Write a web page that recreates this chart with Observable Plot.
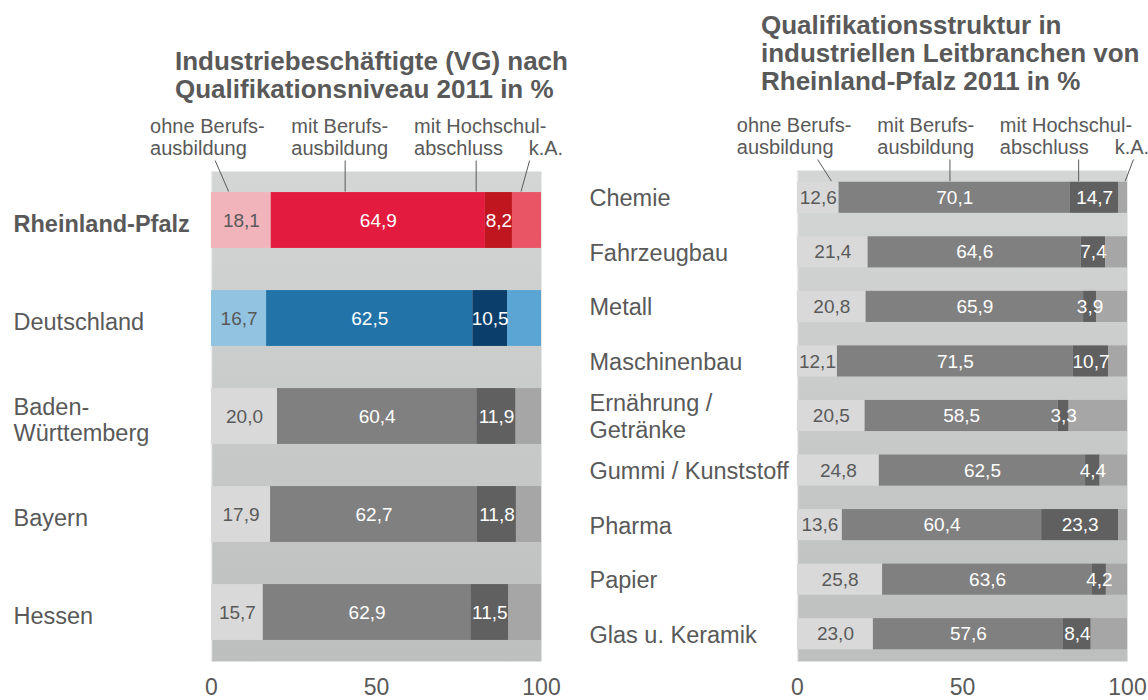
<!DOCTYPE html>
<html><head><meta charset="utf-8">
<script src="https://cdn.jsdelivr.net/npm/d3@7"></script>
<script src="https://cdn.jsdelivr.net/npm/@observablehq/plot@0.6"></script>
<style>
body{margin:0;background:#fff;font-family:"Liberation Sans",Arial,sans-serif;}
#wrap{position:relative;width:1148px;height:700px;overflow:hidden;}
.title{position:absolute;font-weight:bold;font-size:26px;line-height:28px;color:#595959;white-space:pre;}
.panel{position:absolute;top:105px;}
</style></head><body>
<div id="wrap">
  <div class="title" id="t1" style="left:175px;top:47px"></div>
  <div class="title" id="t2" style="left:761px;top:11px"></div>
  <div class="panel" id="p1" style="left:0px"></div>
  <div class="panel" id="p2" style="left:574px"></div>
</div>
<script>
// ---- data ----
const leftTitle = "Industriebeschäftigte (VG) nach\nQualifikationsniveau 2011 in %";
const rightTitle = "Qualifikationsstruktur in\nindustriellen Leitbranchen von\nRheinland-Pfalz 2011 in %";

const legendLabels = ["ohne Berufs-\nausbildung", "mit Berufs-\nausbildung", "mit Hochschul-\nabschluss", "k.A."];

const leftRegions = ["Rheinland-Pfalz", "Deutschland", "Baden-\nWürttemberg", "Bayern", "Hessen"];
const leftOhne = [18.1, 16.7, 20.0, 17.9, 15.7];
const leftMit  = [64.9, 62.5, 60.4, 62.7, 62.9];
const leftHoch = [8.2, 10.5, 11.9, 11.8, 11.5];
const leftScheme = ["rp", "de", "grey", "grey", "grey"];

const rightBranches = ["Chemie", "Fahrzeugbau", "Metall", "Maschinenbau", "Ernährung /\nGetränke",
  "Gummi / Kunststoff", "Pharma", "Papier", "Glas u. Keramik"];
const rightOhne = [12.6, 21.4, 20.8, 12.1, 20.5, 24.8, 13.6, 25.8, 23.0];
const rightMit  = [70.1, 64.6, 65.9, 71.5, 58.5, 62.5, 60.4, 63.6, 57.6];
const rightHoch = [14.7, 7.4, 3.9, 10.7, 3.3, 4.4, 23.3, 4.2, 8.4];
const rightScheme = rightBranches.map(() => "grey");

const xTicks = [0, 50, 100];

// ---- styles ----
const palettes = {
  rp:   ["#f2b4bb", "#e31b3f", "#bf1620", "#ea5566"],
  de:   ["#92c3e1", "#2274a8", "#0b3e6a", "#5aa5d3"],
  grey: ["#d9d9d9", "#808080", "#606060", "#a6a6a6"]
};
const textGrey = "#595959";
const fmt = v => v.toFixed(1).replace(".", ",");

document.getElementById("t1").textContent = leftTitle;
document.getElementById("t2").textContent = rightTitle;

function panel(cfg) {
  const {names, ohne, mit, hoch, scheme, marginLeft, marginRight, marginTop, marginBottom,
         labelOffset, labelDy, boldFirst, legendX, leaderX, gradId} = cfg;
  const width = 574, height = 595;
  const n = names.length;
  const step = (height - marginTop - marginBottom) / n;
  const half = 0.285;
  const segs = names.flatMap((name, i) => {
    const vals = [ohne[i], mit[i], hoch[i], +(100 - ohne[i] - mit[i] - hoch[i]).toFixed(1)];
    let acc = 0;
    return vals.map((v, k) => {
      const s = {row: i, k, v, x1: acc, x2: acc + v, color: palettes[scheme[i]][k]};
      acc += v;
      return s;
    });
  });
  const rows = names.map((name, i) => ({i, name}));
  const legend = legendLabels.map((label, k) => ({label, x: legendX[k]}));
  const leaders = leaderX.map(([a, b]) => ({a, b}));
  const yTop = -0.5 - 11 / step;
  const yBot = -half - 1 / step;

  const svg = Plot.plot({
    width, height, marginLeft, marginRight, marginTop, marginBottom,
    style: {fontFamily: '"Liberation Sans", Arial, sans-serif', overflow: "visible", background: "transparent"},
    x: {domain: [0, 100], axis: null},
    y: {domain: [-0.5, n - 0.5], reverse: true, axis: null},
    color: {type: "identity"},
    marks: [
      Plot.frame({fill: `url(#${gradId})`, stroke: "none"}),
      Plot.ruleX([0], {stroke: "#ececec", strokeWidth: 1.5}),
      Plot.rect(segs, {x1: "x1", x2: "x2", y1: d => d.row - half, y2: d => d.row + half, fill: "color"}),
      Plot.text(segs.filter(d => d.k < 3), {
        x: d => (d.x1 + d.x2) / 2, y: "row", text: d => fmt(d.v),
        fill: d => d.k === 0 ? textGrey : "#ffffff", fontSize: 19
      }),
      Plot.text(rows.filter(d => boldFirst && d.i === 0), {
        y: "i", text: "name", frameAnchor: "left", textAnchor: "start", dx: -labelOffset, dy: labelDy,
        fontSize: 23.5, fontWeight: "bold", fill: textGrey, lineHeight: 1.13
      }),
      Plot.text(rows.filter(d => !(boldFirst && d.i === 0)), {
        y: "i", text: "name", frameAnchor: "left", textAnchor: "start", dx: -labelOffset, dy: labelDy,
        fontSize: 23.5, fill: textGrey, lineHeight: 1.13
      }),
      Plot.text(legend, {
        x: "x", y: () => -0.5, text: "label", textAnchor: "start", lineAnchor: "bottom",
        dy: -17, fontSize: 20, lineHeight: 1.08, fill: textGrey
      }),
      Plot.link(leaders, {x1: "a", x2: "b", y1: () => yTop, y2: () => yBot, stroke: textGrey, strokeWidth: 1}),
      Plot.axisX({ticks: xTicks, tickSize: 0, tickPadding: 17, fontSize: 23, color: textGrey})
    ]
  });
  const defs = d3.select(svg).insert("defs", ":first-child");
  const g = defs.append("linearGradient").attr("id", gradId)
    .attr("x1", 0).attr("y1", 0).attr("x2", 0).attr("y2", 1);
  g.append("stop").attr("offset", "0%").attr("stop-color", "#d4d5d5");
  g.append("stop").attr("offset", "100%").attr("stop-color", "#bdbfbe");
  return svg;
}

document.getElementById("p1").appendChild(panel({
  names: leftRegions, ohne: leftOhne, mit: leftMit, hoch: leftHoch, scheme: leftScheme,
  marginLeft: 211, marginRight: 33, marginTop: 66, marginBottom: 39,
  labelOffset: 198, labelDy: 3, boldFirst: true,
  legendX: [-18.6, 24.2, 61.4, 96.1],
  leaderX: [[1.1, 5.2], [40.5, 40.5], [80.2, 80.2], [96.4, 93.8]],
  gradId: "bgL"
}));

document.getElementById("p2").appendChild(panel({
  names: rightBranches, ohne: rightOhne, mit: rightMit, hoch: rightHoch, scheme: rightScheme,
  marginLeft: 223, marginRight: 21, marginTop: 65, marginBottom: 39,
  labelOffset: 208, labelDy: 0, boldFirst: false,
  legendX: [-18.4, 24.2, 61.3, 96.1],
  leaderX: [[6.1, 10.3], [46.2, 46.2], [85.2, 85.2], [101.8, 99.3]],
  gradId: "bgR"
}));
</script>
</body></html>
